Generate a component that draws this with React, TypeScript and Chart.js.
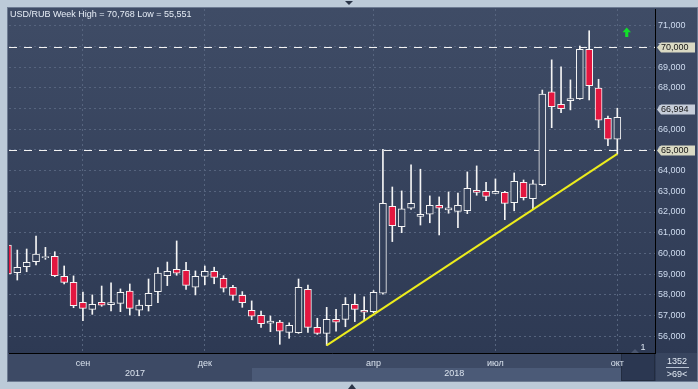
import React, { useEffect, useRef } from 'react';
import { Chart, registerables } from 'chart.js';

Chart.register(...registerables);

// ---- data (weekly candles, index 0 = first full week visible) ----
const weeks = [
  -1, 0, 1, 2, 3, 4, 5, 6, 7, 8, 9, 10, 11, 12, 13, 14, 15, 16, 17, 18, 19, 20,
  21, 22, 23, 24, 25, 26, 27, 28, 29, 30, 31, 32, 33, 34, 35, 36, 37, 38, 39, 40,
  41, 42, 43, 44, 45, 46, 47, 48, 49, 50, 51, 52, 53, 54, 55, 56, 57, 58, 59, 60,
  61, 62, 63, 64,
];
const opens = [
  60.40, 59.07, 59.36, 59.60, 59.79, 59.86, 58.89, 58.60, 57.63, 57.29, 57.63, 57.52,
  57.58, 58.17, 57.25, 57.47, 58.15, 58.92, 59.23, 59.18, 58.36, 58.89, 59.13, 58.79,
  58.36, 57.97, 57.25, 57.00, 56.62, 56.67, 56.18, 56.16, 58.26, 56.42, 56.13, 56.81,
  56.81, 57.54, 57.25, 57.18, 58.07, 62.28, 61.29, 62.18, 61.79, 61.89, 62.32, 62.10,
  62.03, 62.06, 63.05, 63.00, 62.90, 62.95, 62.45, 63.44, 62.65, 63.32, 67.81, 67.21,
  67.39, 67.48, 69.87, 67.99, 66.53, 65.52,
];
const highs = [
  60.55, 60.16, 60.21, 60.84, 60.29, 60.08, 59.39, 58.91, 58.13, 57.99, 58.42, 58.57,
  58.28, 58.52, 57.74, 58.76, 59.31, 59.58, 60.60, 59.57, 59.15, 59.39, 59.33, 58.92,
  58.45, 58.15, 57.70, 57.21, 56.97, 56.76, 56.64, 58.76, 58.47, 56.86, 57.39, 57.29,
  57.86, 58.03, 57.90, 58.20, 65.03, 63.21, 63.02, 64.28, 64.07, 62.78, 62.73, 62.97,
  62.92, 63.94, 64.23, 63.44, 63.60, 63.00, 63.89, 63.55, 63.55, 67.90, 69.36, 69.02,
  68.39, 70.03, 70.768, 68.42, 66.64, 67.02,
];
const lows = [
  58.90, 58.71, 59.11, 59.44, 59.71, 58.87, 58.52, 57.37, 56.74, 57.05, 57.44, 57.21,
  57.18, 57.02, 56.98, 57.21, 57.61, 58.44, 58.94, 58.26, 57.99, 58.48, 58.53, 58.13,
  57.74, 57.39, 56.79, 56.42, 56.21, 55.60, 55.89, 56.13, 56.18, 56.08, 55.551, 56.24,
  56.45, 56.70, 56.78, 57.13, 58.03, 60.57, 61.00, 62.13, 61.37, 61.48, 60.89, 61.94,
  61.24, 61.92, 62.81, 62.55, 62.88, 61.63, 62.06, 62.58, 62.15, 63.27, 66.08, 66.81,
  66.94, 67.45, 67.42, 66.08, 65.21, 64.81,
];
const closes = [
  59.00, 59.33, 59.57, 59.96, 59.85, 58.92, 58.60, 57.47, 57.34, 57.54, 57.49, 57.62,
  58.12, 57.34, 57.50, 58.07, 59.04, 59.13, 59.04, 58.45, 58.89, 59.13, 58.84, 58.31,
  57.97, 57.61, 56.96, 56.60, 56.72, 56.23, 56.52, 58.36, 56.42, 56.13, 56.81, 56.67,
  57.54, 57.29, 57.15, 58.12, 62.42, 61.34, 62.15, 62.42, 61.89, 62.32, 62.18, 62.20,
  62.32, 63.15, 62.95, 62.76, 63.00, 62.42, 63.49, 62.69, 63.36, 67.71, 67.10, 67.00,
  67.49, 69.87, 68.11, 66.44, 65.52, 66.58,
];
const yTickValues = [56, 57, 58, 59, 60, 61, 62, 63, 64, 65, 66, 67, 68, 69, 70, 71];
const monthTickWeeks = [7, 20, 38, 51, 64];
const monthLabels = ['сен', 'дек', 'апр', 'июл', 'окт'];
const yearLabelWeeks = [12.55, 46.6];
const yearLabels = ['2017', '2018'];
const trendWeeks = [33, 64];
const trendValues = [55.551, 64.81];
const levelValues = [70, 65];
const lastPrice = 66.994;
const titleText = 'USD/RUB Week High = 70,768 Low = 55,551';
const barCount = '1352';
const barSub = '>69<';

const FONT = '"Liberation Sans", Arial, sans-serif';
const RED = '#e3163f';
const fmt = (v: number) => v.toFixed(3).replace('.', ',');

function bgGradient(ctx: CanvasRenderingContext2D) {
  const g = ctx.createLinearGradient(0, 8, 0, 381);
  g.addColorStop(0, '#3f4c66');
  g.addColorStop(1, '#2c3852');
  return g;
}

const decor = {
  id: 'decor',
  beforeDraw(chart: any) {
    const { ctx, chartArea: ca, width, height } = chart;
    ctx.save();
    ctx.fillStyle = '#bccad8';
    ctx.fillRect(0, 0, width, height);
    ctx.fillStyle = '#6d7b92';
    ctx.fillRect(7, 7, 691, 375);
    ctx.fillStyle = bgGradient(ctx);
    ctx.fillRect(8, 8, 689, 373);
    // x band
    const y0 = ca.bottom;
    ctx.fillStyle = '#3d4a65';
    ctx.fillRect(8, y0, ca.right - 8, 381 - y0);
    ctx.fillStyle = '#4b5a77';
    ctx.fillRect(252, 368, 621 - 252, 13);
    ctx.fillStyle = '#2b3751';
    ctx.fillRect(621, y0, ca.right - 621, 381 - y0);
    ctx.strokeStyle = '#222c40';
    ctx.lineWidth = 1;
    ctx.strokeRect(621.5, y0 + 0.5, ca.right - 622, 381 - y0 - 1);
    // right-bottom panel
    ctx.fillStyle = '#38455f';
    ctx.fillRect(ca.right + 1, y0, 697 - ca.right - 1, 381 - y0);
    // small triangles on frame
    ctx.fillStyle = '#2a3548';
    ctx.beginPath();
    ctx.moveTo(345, 1); ctx.lineTo(353, 1); ctx.lineTo(349, 5); ctx.closePath(); ctx.fill();
    ctx.beginPath();
    ctx.moveTo(348, 389); ctx.lineTo(356, 389); ctx.lineTo(352, 384); ctx.closePath(); ctx.fill();
    ctx.restore();
  },
  beforeDatasetsDraw(chart: any) {
    const { ctx, chartArea: ca, scales } = chart;
    ctx.save();
    ctx.strokeStyle = '#f2f2f2';
    ctx.lineWidth = 1;
    ctx.setLineDash([8, 7]);
    for (const v of levelValues) {
      const y = Math.round(scales.y.getPixelForValue(v)) + 0.5;
      ctx.beginPath();
      ctx.moveTo(ca.left, y);
      ctx.lineTo(ca.right, y);
      ctx.stroke();
    }
    ctx.restore();
  },
  afterDraw(chart: any) {
    const { ctx, chartArea: ca, scales } = chart;
    ctx.save();
    // title
    ctx.font = `9px ${FONT}`;
    ctx.fillStyle = '#e6edf6';
    ctx.textAlign = 'left';
    ctx.textBaseline = 'middle';
    ctx.fillText(titleText, 10, 15);
    // price tags
    const tag = (v: number, fill: string) => {
      const y = Math.round(scales.y.getPixelForValue(v)) + 0.5;
      const x0 = ca.right + 2, x1 = ca.right + 6, x2 = 695, h = 10;
      ctx.beginPath();
      ctx.moveTo(x0, y);
      ctx.lineTo(x1, y - h / 2);
      ctx.lineTo(x2, y - h / 2);
      ctx.lineTo(x2, y + h / 2);
      ctx.lineTo(x1, y + h / 2);
      ctx.closePath();
      ctx.fillStyle = fill;
      ctx.fill();
      ctx.fillStyle = '#151515';
      ctx.textAlign = 'left';
      ctx.textBaseline = 'middle';
      ctx.fillText(fmt(v), ca.right + 6, y + 0.5);
    };
    for (const v of levelValues) tag(v, '#dadac4');
    tag(lastPrice, '#c6cdd9');
    // green arrow
    ctx.fillStyle = '#12e02a';
    ctx.beginPath();
    ctx.moveTo(626.7, 27.5);
    ctx.lineTo(631, 32.3);
    ctx.lineTo(628.3, 32.3);
    ctx.lineTo(628.3, 37);
    ctx.lineTo(625.2, 37);
    ctx.lineTo(625.2, 32.3);
    ctx.lineTo(622.5, 32.3);
    ctx.closePath();
    ctx.fill();
    // "1" marker
    ctx.fillStyle = '#4a5670';
    ctx.beginPath();
    ctx.moveTo(631, 353); ctx.lineTo(639, 353); ctx.lineTo(635, 349); ctx.closePath(); ctx.fill();
    ctx.fillStyle = '#dde6f2';
    ctx.textAlign = 'center';
    ctx.fillText('1', 643, 348);
    // years
    ctx.fillStyle = '#dbe3ee';
    yearLabels.forEach((t, i) => {
      ctx.fillText(t, scales.x.getPixelForValue(yearLabelWeeks[i]), 374);
    });
    // right-bottom panel text
    ctx.fillStyle = '#e2eaf4';
    ctx.fillText(barCount, 677, 362);
    ctx.fillText(barSub, 677, 374.5);
    ctx.fillStyle = '#b8c3d3';
    ctx.fillRect(666, 367, 23, 1);
    ctx.restore();
  },
};

export default function App() {
  const ref = useRef<HTMLCanvasElement | null>(null);
  useEffect(() => {
    document.body.style.margin = '0';
    const canvas = ref.current!;
    const up = opens.map((o, i) => closes[i] >= o);
    let cachedGrad: any = null;
    const bodyFill = (c: any) => {
      if (!up[c.dataIndex]) return RED;
      if (!cachedGrad) cachedGrad = bgGradient(c.chart.ctx);
      return cachedGrad;
    };
    const chart = new Chart(canvas, {
      type: 'bar',
      data: {
        datasets: [
          {
            type: 'bar',
            data: weeks.map((w, i) => ({ x: w, y: [Math.max(opens[i], closes[i]), highs[i]] })) as any,
            backgroundColor: '#f4f4f4',
            barThickness: 1,
            grouped: false,
            order: 3,
          } as any,
          {
            type: 'bar',
            data: weeks.map((w, i) => ({ x: w, y: [lows[i], Math.min(opens[i], closes[i])] })) as any,
            backgroundColor: '#f4f4f4',
            barThickness: 1,
            grouped: false,
            order: 3,
          } as any,
          {
            type: 'bar',
            data: weeks.map((w, i) => ({ x: w, y: [opens[i], closes[i]] })) as any,
            backgroundColor: bodyFill,
            borderColor: '#f4f4f4',
            borderWidth: 1,
            borderSkipped: false,
            barThickness: 7,
            grouped: false,
            order: 2,
          } as any,
          {
            type: 'line',
            data: trendWeeks.map((w, i) => ({ x: w, y: trendValues[i] })) as any,
            borderColor: '#ecec1c',
            borderWidth: 2,
            pointRadius: 0,
            order: 1,
          } as any,
        ],
      },
      options: {
        animation: false,
        responsive: false,
        devicePixelRatio: 1,
        layout: { padding: { left: 9, top: 9, right: 0, bottom: 0 } },
        plugins: { legend: { display: false }, tooltip: { enabled: false } },
        scales: {
          x: {
            type: 'linear',
            offset: false,
            min: -0.885,
            max: 68.02,
            afterFit: (a: any) => { a.height = 36; },
            afterBuildTicks: (a: any) => { a.ticks = monthTickWeeks.map((v) => ({ value: v })); },
            ticks: {
              callback: (v: any) => monthLabels[monthTickWeeks.indexOf(Number(v))] ?? '',
              color: '#d8e1ed',
              font: { size: 9, family: FONT },
              padding: 5,
              maxRotation: 0,
              autoSkip: false,
            },
            grid: { color: '#56647e', drawTicks: false, lineWidth: 1, offset: false },
            border: { display: true, color: '#000000', width: 1, dash: [2, 3] },
          },
          y: {
            type: 'linear',
            position: 'right',
            min: 55.18,
            max: 71.82,
            afterFit: (a: any) => { a.width = 43; },
            afterBuildTicks: (a: any) => { a.ticks = yTickValues.map((v) => ({ value: v })); },
            ticks: {
              callback: (v: any) => fmt(Number(v)),
              color: '#cfdcf0',
              font: { size: 9, family: FONT },
              padding: 3,
              autoSkip: false,
            },
            grid: { color: '#56647e', drawTicks: false, lineWidth: 1 },
            border: { display: true, color: '#000000', width: 1, dash: [2, 3] },
          },
        },
      },
      plugins: [decor],
    });
    return () => chart.destroy();
  }, []);
  return (
    <div style={{ position: 'fixed', left: 0, top: 0, width: 698, height: 389 }}>
      <canvas ref={ref} width={698} height={389} style={{ display: 'block' }} />
    </div>
  );
}
